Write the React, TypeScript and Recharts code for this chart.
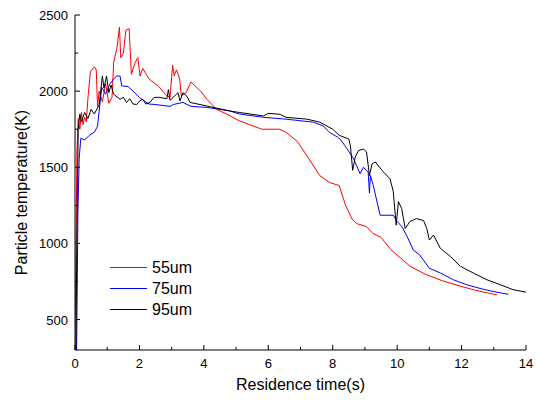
import { Label, Legend, Line, LineChart, XAxis, YAxis } from 'recharts';

const FONT = '"Liberation Sans", Arial, sans-serif';

// residence time (s) / particle temperature (K)
const time55 = [0, 0.03, 0.06, 0.1, 0.15, 0.2, 0.25, 0.3, 0.35, 0.4, 0.48, 0.6, 0.66, 0.7, 0.75, 0.85, 0.95, 1.05, 1.15, 1.2, 1.3, 1.38, 1.42, 1.5, 1.58, 1.68, 1.75, 1.85, 1.95, 2.02, 2.1, 2.3, 2.6, 2.85, 2.95, 3.03, 3.08, 3.15, 3.25, 3.3, 3.45, 3.6, 3.7, 3.9, 4.1, 4.4, 4.7, 5.1, 5.8, 6.35, 6.55, 6.9, 7.2, 7.6, 7.9, 8.2, 8.4, 8.6, 8.75, 9.05, 9.25, 9.5, 9.8, 10.1, 10.4, 10.9, 11.4, 11.95, 12.4, 12.8, 13.1];
const temp55 = [300, 1000, 1600, 1820, 1750, 1860, 1780, 1830, 1800, 1950, 2130, 2160, 2140, 1900, 2000, 1930, 2050, 1920, 1960, 2190, 2280, 2420, 2220, 2250, 2400, 2410, 2110, 2180, 2220, 2100, 2150, 2080, 2030, 1970, 1960, 2170, 2100, 2140, 2080, 1970, 1990, 2060, 2040, 2000, 1945, 1880, 1850, 1805, 1750, 1750, 1730, 1670, 1575, 1445, 1400, 1380, 1250, 1160, 1130, 1110, 1065, 1040, 960, 905, 850, 795, 755, 720, 694, 675, 662];

const time75 = [0.05, 0.09, 0.13, 0.18, 0.3, 0.45, 0.6, 0.7, 0.75, 0.83, 0.95, 1.08, 1.2, 1.3, 1.4, 1.45, 1.65, 1.8, 2.0, 2.3, 2.45, 2.95, 3.05, 3.35, 3.6, 4.1, 4.8, 5.1, 5.85, 6.55, 7.4, 7.7, 7.9, 8.15, 8.25, 8.45, 8.65, 8.85, 8.95, 9.1, 9.14, 9.17, 9.26, 9.47, 9.88, 10.0, 10.15, 10.3, 10.5, 10.7, 11.0, 11.35, 11.75, 12.15, 12.65, 13.1, 13.45];
const temp75 = [300, 1200, 1560, 1690, 1680, 1710, 1730, 1770, 1870, 2025, 1980, 2045, 2080, 2100, 2098, 2035, 2030, 2000, 1958, 1915, 1913, 1900, 1912, 1926, 1900, 1893, 1870, 1850, 1828, 1816, 1796, 1772, 1730, 1698, 1680, 1620, 1555, 1457, 1500, 1470, 1330, 1446, 1380, 1185, 1185, 1144, 1110, 1050, 957, 924, 837, 805, 761, 729, 700, 679, 666];

const time95 = [0.03, 0.06, 0.1, 0.15, 0.2, 0.3, 0.4, 0.5, 0.6, 0.75, 0.85, 0.9, 0.98, 1.05, 1.12, 1.2, 1.4, 1.5, 1.6, 1.7, 1.8, 1.92, 2.0, 2.1, 2.2, 2.33, 2.45, 2.6, 2.85, 2.9, 2.95, 3.1, 3.2, 3.26, 3.35, 3.47, 3.57, 4.1, 4.8, 5.1, 5.85, 6.0, 6.37, 6.55, 7.2, 7.6, 8.0, 8.2, 8.5, 8.55, 8.62, 8.7, 8.8, 8.95, 9.05, 9.14, 9.22, 9.32, 9.57, 9.78, 9.88, 9.97, 10.04, 10.14, 10.25, 10.4, 10.6, 10.82, 10.92, 11.0, 11.13, 11.34, 11.65, 11.96, 12.37, 12.79, 13.2, 13.6, 14];
const temp95 = [300, 1100, 1750, 1850, 1800, 1860, 1820, 1880, 1850, 1910, 2100, 2020, 2100, 1990, 2040, 1980, 1946, 1960, 1925, 1950, 1915, 1913, 1935, 1946, 1915, 1926, 1958, 1960, 1950, 2010, 1940, 1970, 1990, 1935, 1990, 1967, 1926, 1902, 1870, 1860, 1837, 1854, 1848, 1828, 1816, 1796, 1750, 1710, 1685, 1640, 1480, 1567, 1610, 1620, 1600, 1446, 1522, 1535, 1470, 1424, 1340, 1120, 1274, 1229, 1098, 1144, 1163, 1150, 1098, 1022, 1055, 968, 915, 850, 805, 761, 729, 696, 680];

const xTicks = [0, 1, 2, 3, 4, 5, 6, 7, 8, 9, 10, 11, 12, 13, 14];
const yTicks = [500, 750, 1000, 1250, 1500, 1750, 2000, 2250, 2500];

const series = [
  { name: '55um', color: '#ff0000', data: time55.map((t, i) => ({ t, T: temp55[i] })) },
  { name: '75um', color: '#0000ff', data: time75.map((t, i) => ({ t, T: temp75[i] })) },
  { name: '95um', color: '#000000', data: time95.map((t, i) => ({ t, T: temp95[i] })) },
];

function XTick(props: any) {
  const { x, y, payload, side } = props;
  const major = payload.value % 2 === 0;
  const len = major ? 5 : 3;
  const y2 = side === 'top' ? y + len : y - len;
  return (
    <g>
      <line x1={x} x2={x} y1={y} y2={y2} stroke="#000" />
      {side !== 'top' && major && (
        <text x={x} y={y + 18} textAnchor="middle" fontSize={13} fontFamily={FONT} fill="#000">
          {payload.value}
        </text>
      )}
    </g>
  );
}

function YTick(props: any) {
  const { x, y, payload, side } = props;
  const major = payload.value % 500 === 0;
  const len = major ? 5 : 3;
  const x2 = side === 'right' ? x - len : x + len;
  return (
    <g>
      <line x1={x} x2={x2} y1={y} y2={y} stroke="#000" />
      {side !== 'right' && major && (
        <text x={x - 7} y={y + 5} textAnchor="end" fontSize={13} fontFamily={FONT} fill="#000">
          {payload.value}
        </text>
      )}
    </g>
  );
}

function LegendBox() {
  return (
    <div style={{ fontFamily: FONT, fontSize: 16, lineHeight: '21px' }}>
      {series.map((s) => (
        <div key={s.name} style={{ display: 'flex', alignItems: 'center', height: 21 }}>
          <svg width={42} height={21}>
            <line x1={0} x2={37} y1={10.5} y2={10.5} stroke={s.color} strokeWidth={1.2} />
          </svg>
          <span>{s.name}</span>
        </div>
      ))}
    </div>
  );
}

export default function App() {
  return (
    <div style={{ position: 'absolute', left: 0, top: 0 }}>
      <LineChart width={536} height={401} margin={{ top: 15, right: 10, bottom: 0, left: 0 }}>
        <XAxis
          xAxisId={0}
          type="number"
          dataKey="t"
          domain={[0, 14]}
          ticks={xTicks}
          interval={0}
          allowDataOverflow
          height={51}
          tickSize={0}
          tickMargin={0}
          tickLine={false}
          axisLine={{ stroke: '#000' }}
          tick={<XTick side="bottom" />}
        >
          <Label
            content={({ viewBox }: any) => (
              <text
                x={viewBox.x + viewBox.width / 2}
                y={viewBox.y + 40}
                textAnchor="middle"
                fontSize={16}
                fontFamily={FONT}
                fill="#000"
              >
                Residence time(s)
              </text>
            )}
          />
        </XAxis>
        <XAxis
          xAxisId="top"
          orientation="top"
          type="number"
          domain={[0, 14]}
          ticks={xTicks}
          interval={0}
          height={0}
          tickSize={0}
          tickMargin={0}
          tickLine={false}
          axisLine={{ stroke: '#000' }}
          tick={<XTick side="top" />}
        />
        <YAxis
          yAxisId={0}
          type="number"
          domain={[300, 2500]}
          ticks={yTicks}
          interval={0}
          allowDataOverflow
          width={75}
          tickSize={0}
          tickMargin={0}
          tickLine={false}
          axisLine={{ stroke: '#000' }}
          tick={<YTick side="left" />}
        >
          <Label
            content={({ viewBox }: any) => {
              const cx = 21;
              const cy = viewBox.y + viewBox.height / 2 + 10;
              return (
                <text
                  x={cx}
                  y={cy}
                  transform={`rotate(-90 ${cx} ${cy})`}
                  textAnchor="middle"
                  dominantBaseline="central"
                  fontSize={16}
                  fontFamily={FONT}
                  fill="#000"
                >
                  Particle temperature(K)
                </text>
              );
            }}
          />
        </YAxis>
        <YAxis
          yAxisId="right"
          orientation="right"
          type="number"
          domain={[300, 2500]}
          ticks={yTicks}
          interval={0}
          width={0}
          tickSize={0}
          tickMargin={0}
          tickLine={false}
          axisLine={{ stroke: '#000' }}
          tick={<YTick side="right" />}
        />
        <Legend
          layout="horizontal"
          verticalAlign="middle"
          align="center"
          content={<LegendBox />}
          wrapperStyle={{ position: 'absolute', left: 110, top: 257, width: 'auto' }}
        />
        {series.map((s) => (
          <Line
            key={s.name}
            data={s.data}
            dataKey="T"
            name={s.name}
            type="linear"
            stroke={s.color}
            strokeWidth={1}
            dot={false}
            activeDot={false}
            isAnimationActive={false}
          />
        ))}
      </LineChart>
    </div>
  );
}
